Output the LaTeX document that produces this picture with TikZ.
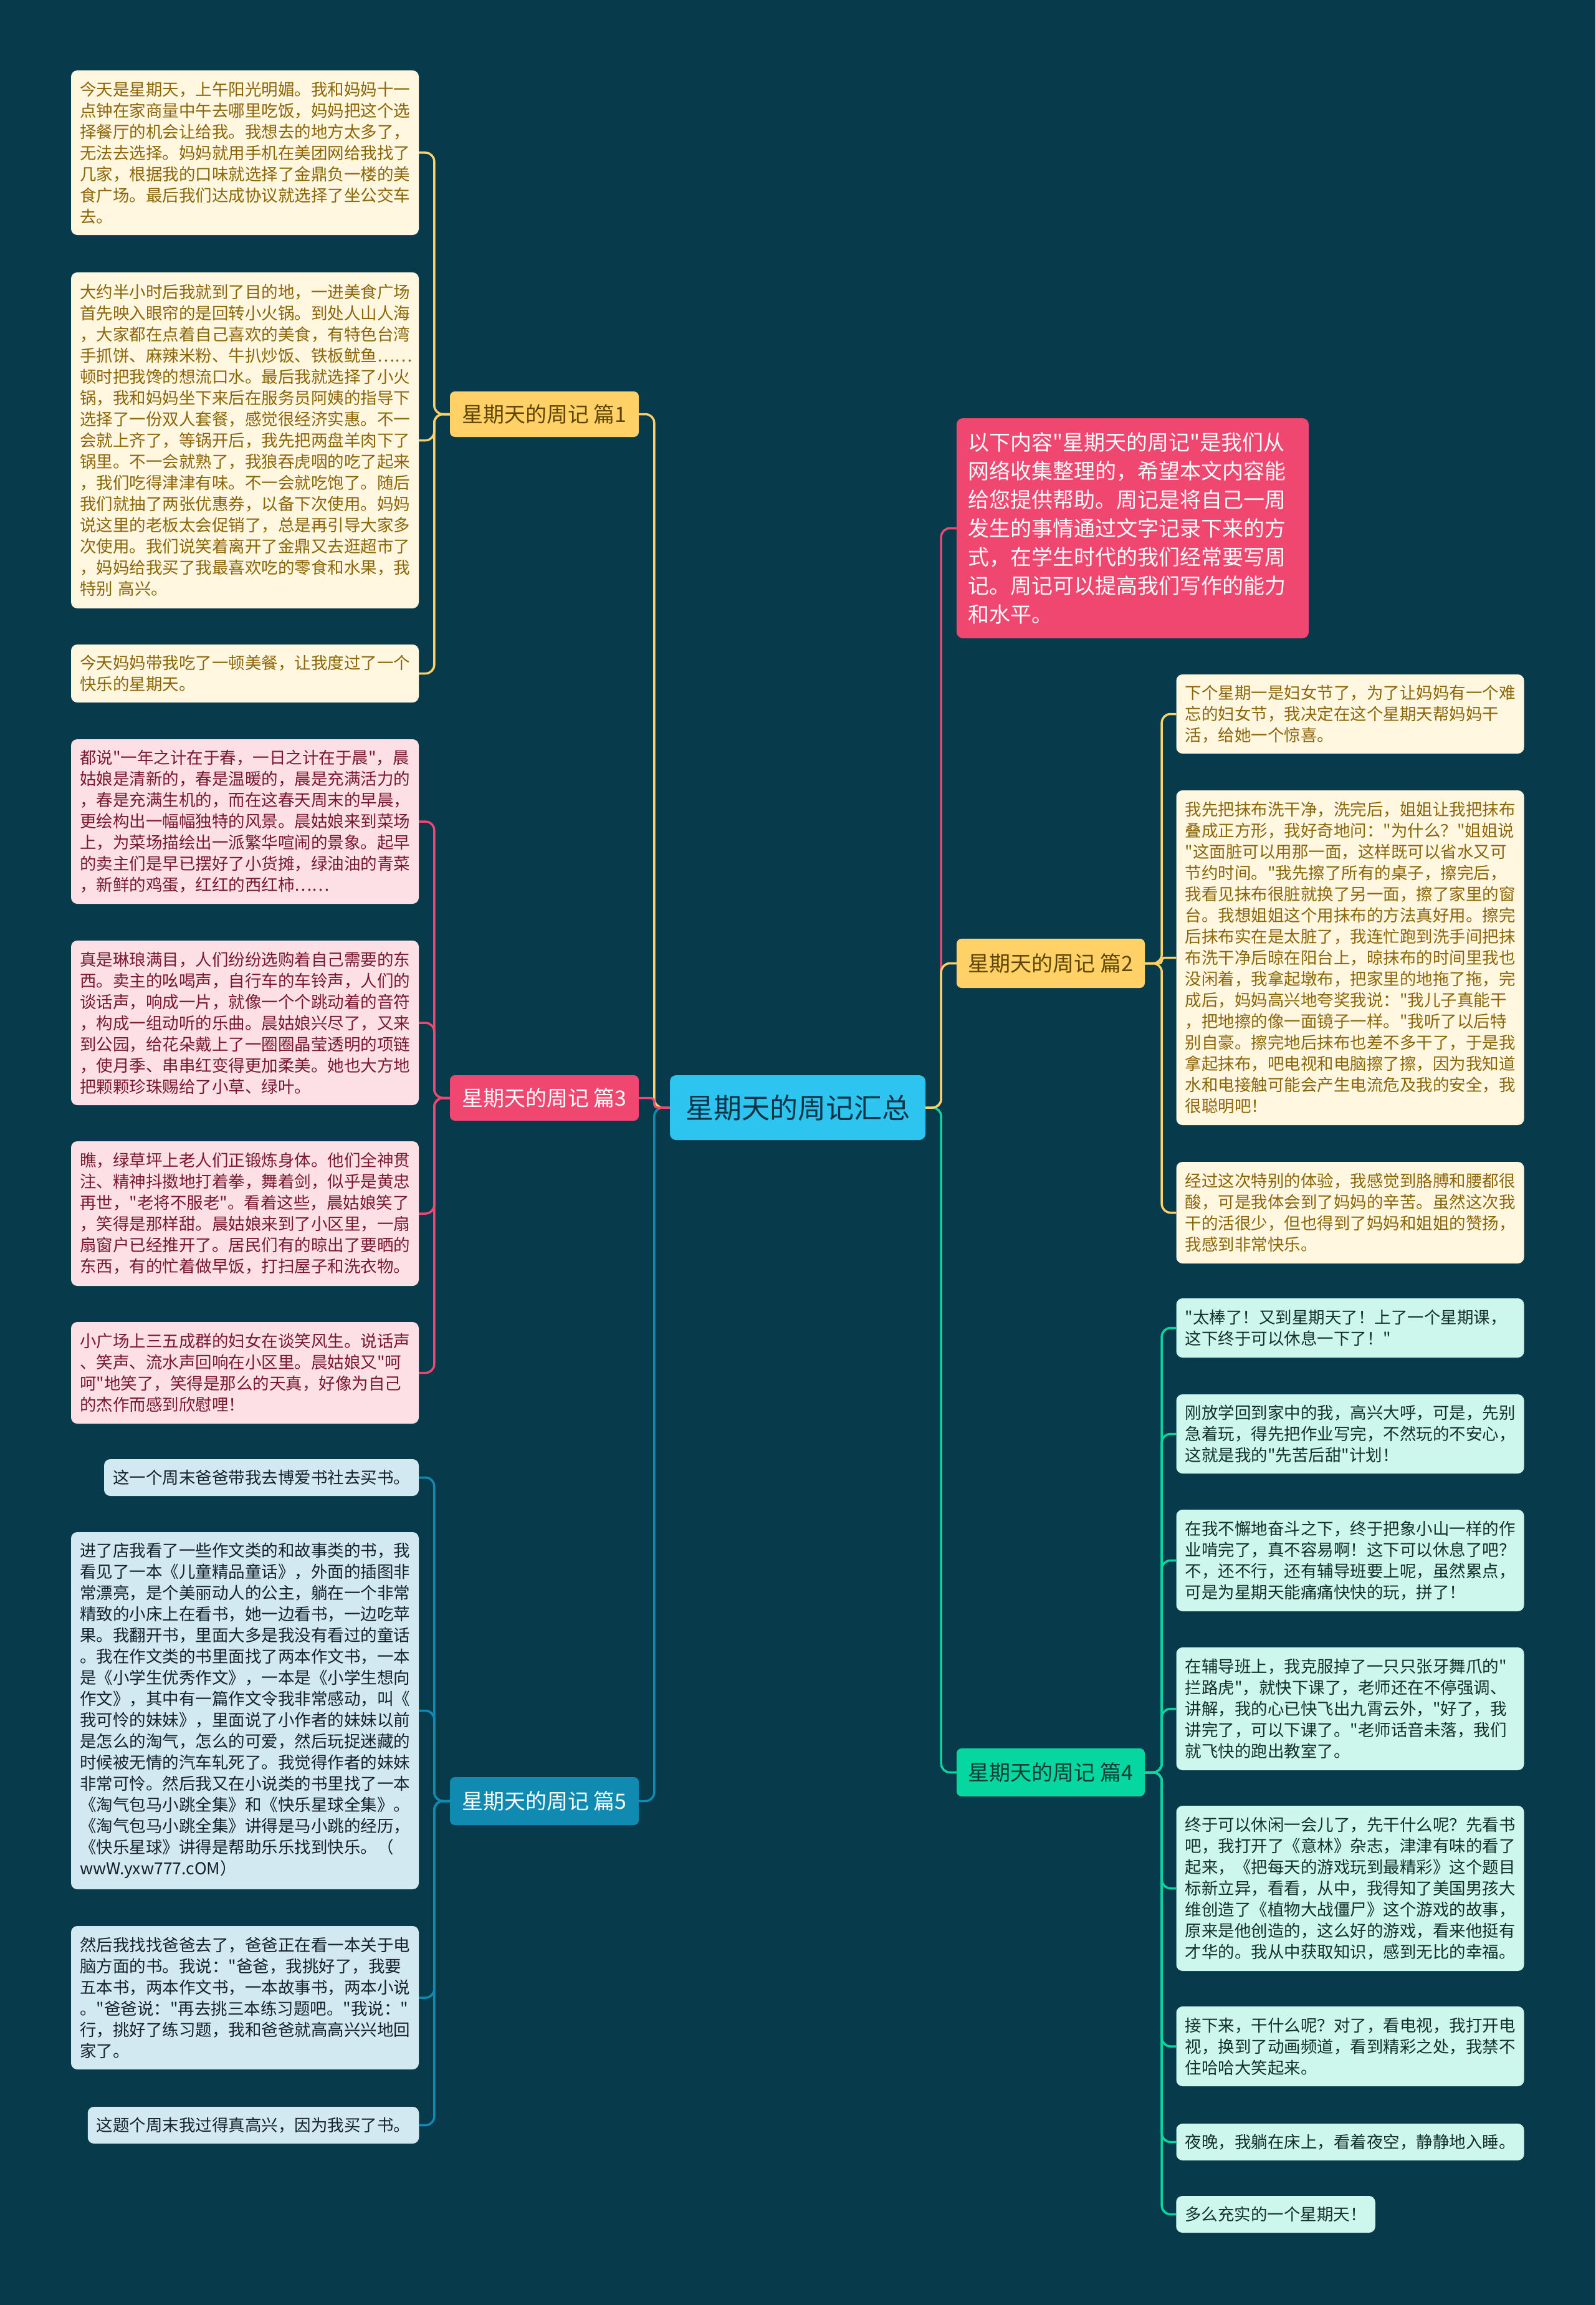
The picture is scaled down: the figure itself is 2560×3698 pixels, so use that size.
\documentclass[tikz,border=0pt]{standalone}
\usepackage{fontspec}
\setmainfont{Noto Sans CJK SC}
\newfontfamily\cjk{Noto Sans CJK SC}
\definecolor{bg}{HTML}{073B4C}
\definecolor{cyanc}{HTML}{2EC4F0}
\definecolor{yel}{HTML}{FFD166}
\definecolor{pnk}{HTML}{EF476F}
\definecolor{grn}{HTML}{06D6A0}
\definecolor{blu}{HTML}{118AB2}
\definecolor{ylfill}{HTML}{FFF7E0}
\definecolor{yltext}{HTML}{8C6508}
\definecolor{pkfill}{HTML}{FDE0E6}
\definecolor{pktext}{HTML}{78192F}
\definecolor{blfill}{HTML}{D2E9F1}
\definecolor{bltext}{HTML}{16222A}
\definecolor{gnfill}{HTML}{CDF6EC}
\definecolor{gntext}{HTML}{14302B}
\definecolor{navy}{HTML}{0B3446}
\definecolor{ybtext}{HTML}{5E4600}
\definecolor{gbtext}{HTML}{0E3A32}

\newcommand\placebox[7][]{%
  \pgfmathsetmacro\pbw{#5-#3}%
  \pgfmathsetmacro\pbh{#6-#4}%
  \pgfmathsetmacro\pbx{(#3+#5)/2}%
  \pgfmathsetmacro\pby{-(#4+#6)/2}%
  \node[#1, minimum width=\pbw pt, minimum height=\pbh pt] (#2) at (\pbx pt,\pby pt) {#7};}

\tikzset{
  leaf/.style={rounded corners=10pt, inner xsep=14pt, inner ysep=0pt,
    font=\cjk\fontsize{26.5}{34}\selectfont},
  mleaf/.style={leaf, text width=530pt, align=left},
  yl/.style={fill=ylfill, text=yltext},
  pl/.style={fill=pkfill, text=pktext},
  bl/.style={fill=blfill, text=bltext},
  gl/.style={fill=gnfill, text=gntext},
  branch/.style={rounded corners=8pt, inner sep=0pt, font=\cjk\fontsize{34}{40}\selectfont},
  conn/.style={line width=3.5pt, rounded corners=14pt},
}

\begin{document}
\begin{tikzpicture}
\useasboundingbox (0,0) rectangle (2560pt,-3698pt);
\fill[bg] (0,0) rectangle (2560pt,-3698pt);

% center
\placebox[rounded corners=10pt, fill=cyanc, text=navy, font=\cjk\fontsize{45}{50}\selectfont, inner sep=0pt]{c}{1075}{1725}{1485}{1829}{星期天的周记汇总}

% branches
\placebox[branch, fill=yel, text=ybtext]{b1}{722}{628}{1025}{701}{星期天的周记 篇1}
\placebox[branch, fill=pnk, text=white]{b3}{722}{1725}{1025}{1798}{星期天的周记 篇3}
\placebox[branch, fill=blu, text=white]{b5}{722}{2851}{1025}{2928}{星期天的周记 篇5}
\placebox[branch, fill=yel, text=ybtext]{b2}{1535}{1506}{1837}{1585}{星期天的周记 篇2}
\placebox[branch, fill=grn, text=gbtext]{b4}{1535}{2805}{1837}{2882}{星期天的周记 篇4}

% intro
\placebox[rounded corners=10pt, fill=pnk, text=white, inner xsep=18pt, inner ysep=0pt, text width=529pt, align=left, font=\cjk\fontsize{34}{46}\selectfont]{intro}{1535}{671}{2100}{1024}{以下内容"星期天的周记"是我们从\\网络收集整理的，希望本文内容能\\给您提供帮助。周记是将自己一周\\发生的事情通过文字记录下来的方\\式，在学生时代的我们经常要写周\\记。周记可以提高我们写作的能力\\和水平。}

% 篇1 leaves
\placebox[mleaf, yl]{l1a}{114}{113}{672}{377}{今天是星期天，上午阳光明媚。我和妈妈十一\\点钟在家商量中午去哪里吃饭，妈妈把这个选\\择餐厅的机会让给我。我想去的地方太多了，\\无法去选择。妈妈就用手机在美团网给我找了\\几家，根据我的口味就选择了金鼎负一楼的美\\食广场。最后我们达成协议就选择了坐公交车\\去。}
\placebox[mleaf, yl]{l1b}{114}{437}{672}{976}{大约半小时后我就到了目的地，一进美食广场\\首先映入眼帘的是回转小火锅。到处人山人海\\，大家都在点着自己喜欢的美食，有特色台湾\\手抓饼、麻辣米粉、牛扒炒饭、铁板鱿鱼……\\顿时把我馋的想流口水。最后我就选择了小火\\锅，我和妈妈坐下来后在服务员阿姨的指导下\\选择了一份双人套餐，感觉很经济实惠。不一\\会就上齐了，等锅开后，我先把两盘羊肉下了\\锅里。不一会就熟了，我狼吞虎咽的吃了起来\\，我们吃得津津有味。不一会就吃饱了。随后\\我们就抽了两张优惠券，以备下次使用。妈妈\\说这里的老板太会促销了，总是再引导大家多\\次使用。我们说笑着离开了金鼎又去逛超市了\\，妈妈给我买了我最喜欢吃的零食和水果，我\\特别 高兴。}
\placebox[mleaf, yl]{l1c}{114}{1034}{672}{1127}{今天妈妈带我吃了一顿美餐，让我度过了一个\\快乐的星期天。}

% 篇3 leaves
\placebox[mleaf, pl]{l3a}{114}{1186}{672}{1450}{都说"一年之计在于春，一日之计在于晨"，晨\\姑娘是清新的，春是温暖的，晨是充满活力的\\，春是充满生机的，而在这春天周末的早晨，\\更绘构出一幅幅独特的风景。晨姑娘来到菜场\\上，为菜场描绘出一派繁华喧闹的景象。起早\\的卖主们是早已摆好了小货摊，绿油油的青菜\\，新鲜的鸡蛋，红红的西红柿……}
\placebox[mleaf, pl]{l3b}{114}{1509}{672}{1773}{真是琳琅满目，人们纷纷选购着自己需要的东\\西。卖主的吆喝声，自行车的车铃声，人们的\\谈话声，响成一片，就像一个个跳动着的音符\\，构成一组动听的乐曲。晨姑娘兴尽了，又来\\到公园，给花朵戴上了一圈圈晶莹透明的项链\\，使月季、串串红变得更加柔美。她也大方地\\把颗颗珍珠赐给了小草、绿叶。}
\placebox[mleaf, pl]{l3c}{114}{1831}{672}{2063}{瞧，绿草坪上老人们正锻炼身体。他们全神贯\\注、精神抖擞地打着拳，舞着剑，似乎是黄忠\\再世，"老将不服老"。看着这些，晨姑娘笑了\\，笑得是那样甜。晨姑娘来到了小区里，一扇\\扇窗户已经推开了。居民们有的晾出了要晒的\\东西，有的忙着做早饭，打扫屋子和洗衣物。}
\placebox[mleaf, pl]{l3d}{114}{2121}{672}{2284}{小广场上三五成群的妇女在谈笑风生。说话声\\、笑声、流水声回响在小区里。晨姑娘又"呵\\呵"地笑了，笑得是那么的天真，好像为自己\\的杰作而感到欣慰哩！}

% 篇5 leaves
\placebox[leaf, bl]{l5a}{167}{2341}{672}{2400}{这一个周末爸爸带我去博爱书社去买书。}
\placebox[mleaf, bl]{l5b}{114}{2458}{672}{3031}{进了店我看了一些作文类的和故事类的书，我\\看见了一本《儿童精品童话》，外面的插图非\\常漂亮，是个美丽动人的公主，躺在一个非常\\精致的小床上在看书，她一边看书，一边吃苹\\果。我翻开书，里面大多是我没有看过的童话\\。我在作文类的书里面找了两本作文书，一本\\是《小学生优秀作文》，一本是《小学生想向\\作文》，其中有一篇作文令我非常感动，叫《\\我可怜的妹妹》，里面说了小作者的妹妹以前\\是怎么的淘气，怎么的可爱，然后玩捉迷藏的\\时候被无情的汽车轧死了。我觉得作者的妹妹\\非常可怜。然后我又在小说类的书里找了一本\\《淘气包马小跳全集》和《快乐星球全集》。\\《淘气包马小跳全集》讲得是马小跳的经历，\\《快乐星球》讲得是帮助乐乐找到快乐。（\\wwW.yxw777.cOM）}
\placebox[mleaf, bl]{l5c}{114}{3090}{672}{3320}{然后我找找爸爸去了，爸爸正在看一本关于电\\脑方面的书。我说："爸爸，我挑好了，我要\\五本书，两本作文书，一本故事书，两本小说\\。"爸爸说："再去挑三本练习题吧。"我说："\\行，挑好了练习题，我和爸爸就高高兴兴地回\\家了。}
\placebox[leaf, bl]{l5d}{141}{3380}{672}{3439}{这题个周末我过得真高兴，因为我买了书。}

% 篇2 leaves
\placebox[mleaf, yl]{r2a}{1888}{1082}{2445}{1209}{下个星期一是妇女节了，为了让妈妈有一个难\\忘的妇女节，我决定在这个星期天帮妈妈干\\活，给她一个惊喜。}
\placebox[mleaf, yl]{r2b}{1888}{1268}{2445}{1805}{我先把抹布洗干净，洗完后，姐姐让我把抹布\\叠成正方形，我好奇地问："为什么？"姐姐说\\"这面脏可以用那一面，这样既可以省水又可\\节约时间。"我先擦了所有的桌子，擦完后，\\我看见抹布很脏就换了另一面，擦了家里的窗\\台。我想姐姐这个用抹布的方法真好用。擦完\\后抹布实在是太脏了，我连忙跑到洗手间把抹\\布洗干净后晾在阳台上，晾抹布的时间里我也\\没闲着，我拿起墩布，把家里的地拖了拖，完\\成后，妈妈高兴地夸奖我说："我儿子真能干\\，把地擦的像一面镜子一样。"我听了以后特\\别自豪。擦完地后抹布也差不多干了，于是我\\拿起抹布，吧电视和电脑擦了擦，因为我知道\\水和电接触可能会产生电流危及我的安全，我\\很聪明吧！}
\placebox[mleaf, yl]{r2c}{1888}{1864}{2445}{2027}{经过这次特别的体验，我感觉到胳膊和腰都很\\酸，可是我体会到了妈妈的辛苦。虽然这次我\\干的活很少，但也得到了妈妈和姐姐的赞扬，\\我感到非常快乐。}

% 篇4 leaves
\placebox[mleaf, gl]{r4a}{1888}{2083}{2445}{2178}{"太棒了！又到星期天了！上了一个星期课，\\这下终于可以休息一下了！"}
\placebox[mleaf, gl]{r4b}{1888}{2237}{2445}{2364}{刚放学回到家中的我，高兴大呼，可是，先别\\急着玩，得先把作业写完，不然玩的不安心，\\这就是我的"先苦后甜"计划！}
\placebox[mleaf, gl]{r4c}{1888}{2422}{2445}{2585}{在我不懈地奋斗之下，终于把象小山一样的作\\业啃完了，真不容易啊！这下可以休息了吧？\\不，还不行，还有辅导班要上呢，虽然累点，\\可是为星期天能痛痛快快的玩，拼了！}
\placebox[mleaf, gl]{r4d}{1888}{2643}{2445}{2840}{在辅导班上，我克服掉了一只只张牙舞爪的"\\拦路虎"，就快下课了，老师还在不停强调、\\讲解，我的心已快飞出九霄云外，"好了，我\\讲完了，可以下课了。"老师话音未落，我们\\就飞快的跑出教室了。}
\placebox[mleaf, gl]{r4e}{1888}{2897}{2445}{3162}{终于可以休闲一会儿了，先干什么呢？先看书\\吧，我打开了《意林》杂志，津津有味的看了\\起来，《把每天的游戏玩到最精彩》这个题目\\标新立异，看看，从中，我得知了美国男孩大\\维创造了《植物大战僵尸》这个游戏的故事，\\原来是他创造的，这么好的游戏，看来他挺有\\才华的。我从中获取知识，感到无比的幸福。}
\placebox[mleaf, gl]{r4f}{1888}{3219}{2445}{3347}{接下来，干什么呢？对了，看电视，我打开电\\视，换到了动画频道，看到精彩之处，我禁不\\住哈哈大笑起来。}
\placebox[leaf, gl]{r4g}{1888}{3407}{2445}{3466}{夜晚，我躺在床上，看着夜空，静静地入睡。}
\placebox[leaf, gl]{r4h}{1888}{3523}{2206}{3582}{多么充实的一个星期天！}

% connectors center -> branches
\draw[conn, yel] (c.west) -- ++(-25pt,0) |- (b1.east);
\draw[conn, blu] (c.west) -- ++(-25pt,0) |- (b5.east);
\draw[conn, pnk, rounded corners=6pt] (c.west) -- ++(-25pt,0) |- (b3.east);
\draw[conn, pnk] (c.east) -- ++(25pt,0) |- (intro.west);
\draw[conn, grn] (c.east) -- ++(25pt,0) |- (b4.west);
\draw[conn, yel] (c.east) -- ++(25pt,0) |- (b2.west);

% branches -> leaves
\foreach \n in {l1a,l1b,l1c} \draw[conn, yel] (b1.west) -- ++(-25pt,0) |- (\n.east);
\foreach \n in {l3a,l3b,l3c,l3d} \draw[conn, pnk] (b3.west) -- ++(-25pt,0) |- (\n.east);
\foreach \n in {l5a,l5b,l5c,l5d} \draw[conn, blu] (b5.west) -- ++(-25pt,0) |- (\n.east);
\foreach \n in {r2a,r2c} \draw[conn, yel] (b2.east) -- ++(27pt,0) |- (\n.west);
\draw[conn, yel, rounded corners=4pt] (b2.east) -- ++(27pt,0) |- (r2b.west);
\foreach \n in {r4a,r4b,r4c,r4d,r4e,r4f,r4g,r4h} \draw[conn, grn] (b4.east) -- ++(27pt,0) |- (\n.west);
\end{tikzpicture}
\end{document}
